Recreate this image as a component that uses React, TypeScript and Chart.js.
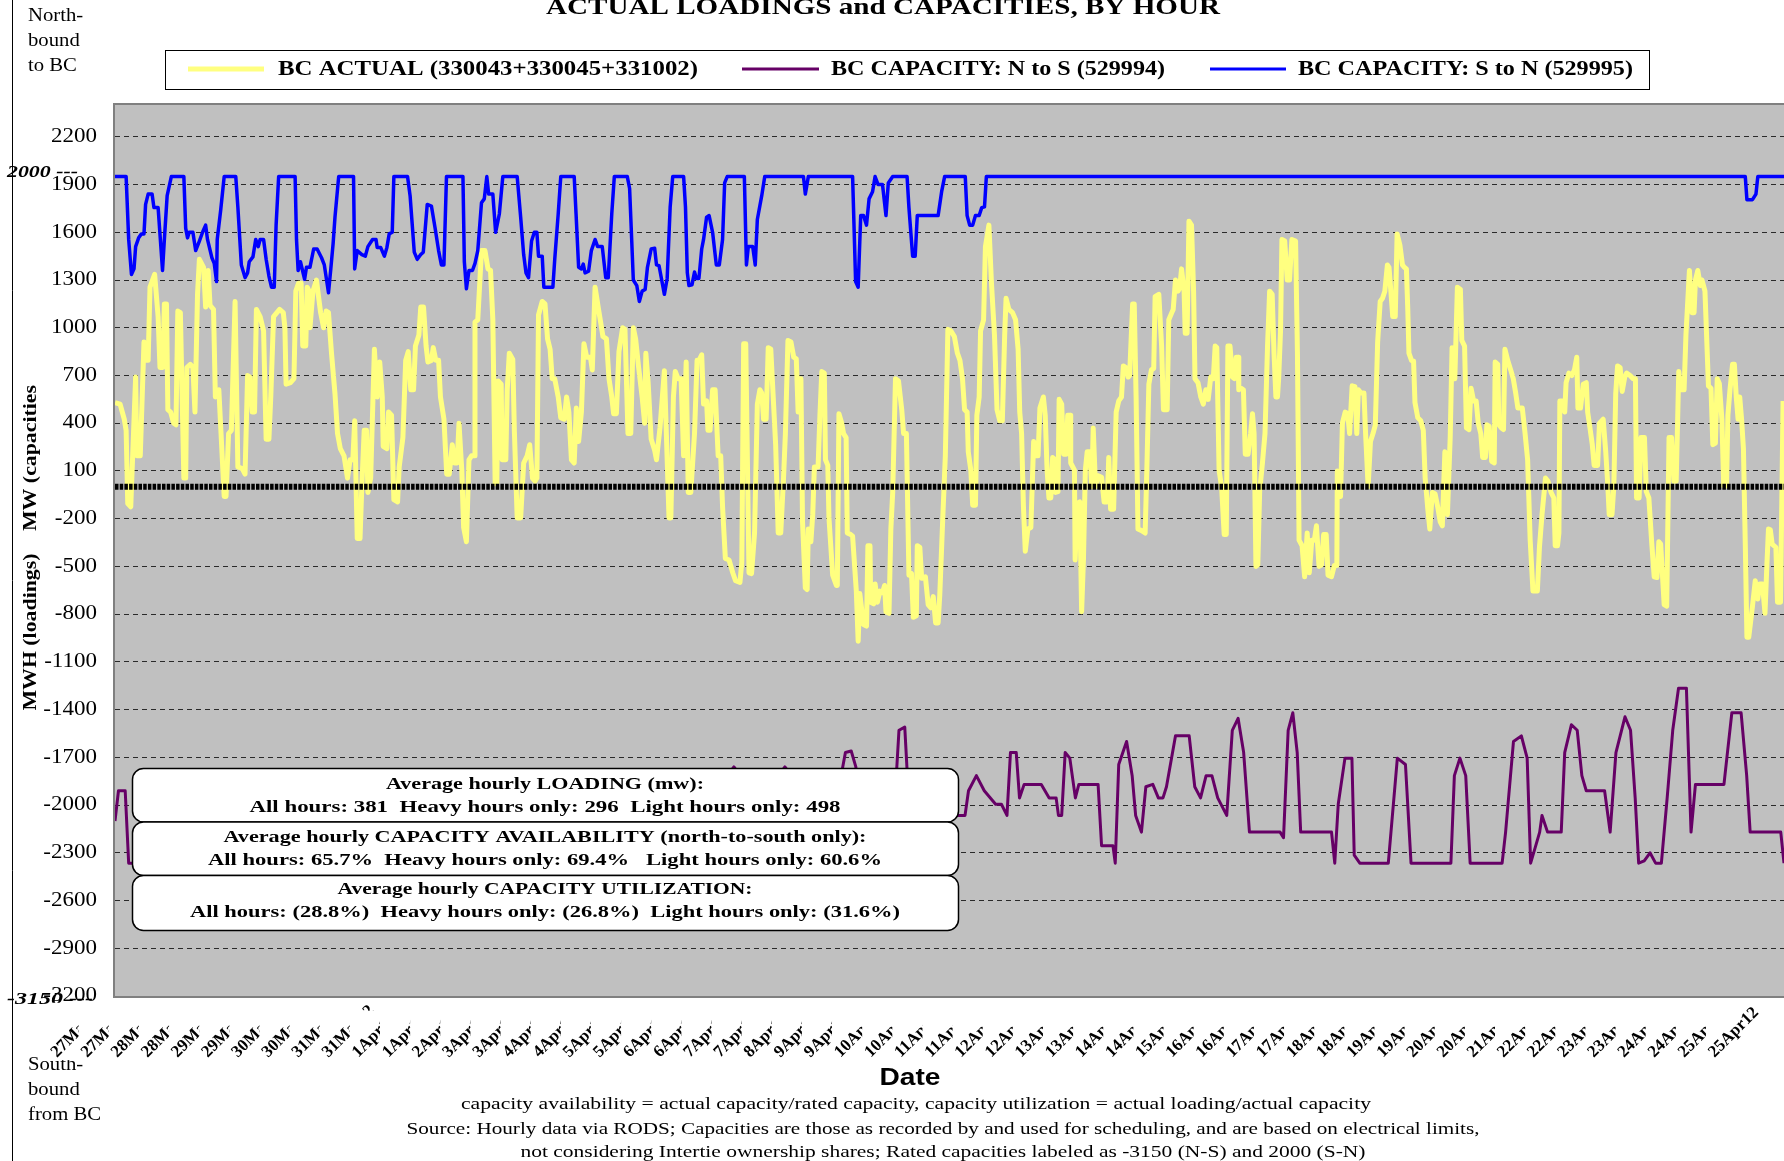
import React, { useEffect, useRef } from 'react';
import { Chart, registerables } from 'chart.js';

Chart.register(...registerables);

const CANVAS_W = 1784;
const CANVAS_H = 1161;

// [hour since 27Mar12 00:00, MW]
const bcActual: number[][] = [
  [0,530],[2.2,520],[4,425],[4.8,355],[5.5,-105],[6.8,-125],[8.9,690],[9.4,195],[10.9,195],[12.5,910],[13.2,795],[14.3,795],[15.1,1255],[17.1,1335],[18.6,1070],[19.4,750],[20.6,750],[21.3,1150],[22.2,1150],[22.8,485],[24,470],[25.3,400],[26.3,390],[27.1,1105],[28.2,1095],[29.7,55],[30.5,55],[31,750],[32.5,770],[33.6,750],[34.5,470],[35.6,1210],[36.4,1430],[38.2,1380],[39.1,1130],[40.2,1360],[41,1140],[42.5,1115],[43.3,565],[44.8,610],[47.1,-60],[47.9,-60],[49,335],[50.2,355],[51.8,1165],[53,125],[54.9,115],[56.1,80],[57.2,700],[58.2,690],[59.2,470],[60.2,470],[61,1115],[62.6,1070],[64.1,980],[65.2,300],[66.4,300],[67.2,565],[68.4,1070],[71,1115],[72.6,1095],[73.3,1000],[73.8,645],[75.7,655],[77.2,680],[78,1230],[79.2,1280],[80.3,1280],[81,885],[82.3,885],[82.9,1255],[83.7,1230],[84.1,1000],[85.4,1230],[86.9,1300],[87.5,1230],[88.7,1095],[90,1000],[91.1,1105],[92.1,1095],[93.4,840],[94.9,585],[96,335],[97.2,240],[98.8,195],[100.3,55],[101.4,170],[102.6,170],[103.4,415],[104.5,-325],[105.7,-325],[106.5,10],[107.5,355],[108.5,355],[109.1,-35],[110.3,55],[111.9,865],[113.1,565],[114.2,785],[115.3,565],[115.7,255],[117.3,240],[118,470],[119.3,450],[120.3,-80],[121.9,-95],[122.6,125],[124.2,310],[125.4,795],[126.5,850],[127.6,610],[128.8,610],[129.6,885],[131.1,955],[131.9,1130],[133.1,1130],[134.2,885],[135,785],[136.5,795],[137.3,875],[138.4,795],[139.6,795],[140.4,565],[141.9,425],[143.1,80],[144.2,80],[145.5,265],[146.5,150],[147.6,150],[148.4,400],[149.6,105],[150.4,-255],[151.6,-345],[152.7,170],[153.8,195],[155,195],[155.3,1035],[156.5,1050],[158.1,1485],[159.6,1485],[160.9,1370],[162,1360],[163,1050],[164,20],[164.7,20],[165.3,665],[166.6,645],[167,170],[168.6,170],[169.2,610],[170.1,840],[171.6,800],[172.3,345],[173.5,-195],[175,-195],[176.3,150],[177.8,195],[178.9,265],[180.1,55],[181.2,35],[182,55],[182.7,1080],[184.3,1165],[185.5,1150],[186.6,930],[187.7,865],[188.6,680],[189.7,680],[191.2,565],[192.3,435],[193.8,425],[194.8,565],[195.8,470],[196.9,170],[198.1,150],[199,495],[200,285],[201.2,470],[202.3,900],[203.5,815],[205.1,815],[205.9,735],[207.1,1255],[208.6,1115],[210.5,945],[212,930],[213.1,680],[214.3,565],[215.1,460],[216.3,460],[217.4,850],[219,1000],[220,990],[221.3,335],[222.5,335],[223.6,1000],[224.6,930],[225.9,750],[227.4,565],[228.5,400],[229,840],[230,655],[231.3,300],[232.8,230],[233.6,170],[235.1,370],
  [237,730],[239,-195],[239.8,-195],[240.9,565],[241.7,725],[242.9,680],[244.2,680],[245.3,195],[246.4,785],[247.3,-35],[248.4,-35],[250,335],[251.1,795],[252,795],[253.1,830],[253.9,520],[255.2,540],[255.8,355],[256.7,355],[257.8,610],[258.9,610],[260.2,195],[261.3,195],[262.1,-125],[263.3,-450],[264.9,-460],[266.5,-540],[267.7,-590],[269.6,-600],[270.4,-475],[271.2,900],[272.1,900],[273.5,-540],[274.6,-545],[275.9,-290],[277.1,520],[278.2,610],[279,590],[279.8,425],[280.9,425],[281.8,875],[282.9,865],[285,265],[286.1,-290],[287.2,-290],[288.4,55],[289.2,335],[290.3,920],[291.6,910],[292.8,815],[293.9,805],[294.7,470],[295.5,680],[295.9,680],[296.6,-220],[297.8,-635],[298.6,-645],[299.1,-265],[300.2,-345],[301,-175],[301.7,125],[303.3,125],[304.1,450],[304.9,725],[306,715],[306.5,170],[307.5,135],[308,-195],[309.6,-555],[311.2,-620],[311.6,-620],[312.3,460],[313.5,400],[314.3,335],[315.4,310],[315.9,-290],[317.4,-300],[318.2,-310],[319.8,-655],[320.6,-970],[321.3,-670],[322.9,-865],[324.2,-875],[324.8,-370],[325.7,-370],[326,-725],[327.3,-735],[327.9,-610],[328.9,-725],[330,-655],[331.1,-665],[332,-620],[332.6,-785],[333.9,-795],[334.7,-265],[335.5,-35],[336.7,680],[338,665],[339.4,485],[340.2,335],[341.4,335],[342.5,-555],[343.6,-545],[344.4,-820],[345.7,-810],[346.1,-370],[347.2,-380],[348,-575],[349.6,-565],[350.8,-740],[351.9,-760],[353,-690],[354,-855],[355.1,-855],[355.8,-680],[357.1,-195],[358.2,195],[359.3,990],[360.6,980],[362.1,945],[363.4,840],[364.5,795],[365.6,680],[366.5,485],[367.6,470],[368.1,220],[369.2,105],[370,-115],[371.2,-115],[371.8,450],[372.8,565],[373.4,980],[374.7,1050],[375.5,1510],[377,1645],[378.1,1280],[379.4,955],[380.5,485],[381.7,415],[382.8,415],[383.8,955],[384.4,1185],[385.6,1115],[387.2,1095],[388.5,1050],[389.6,865],[390.3,470],[391.1,335],[391.9,-125],[392.7,-405],[393.8,-265],[395.1,-255],[396.3,285],[397.4,195],[398.2,195],[399,495],[400.5,565],[401.3,450],[402.1,105],[402.9,-70],[403.7,-70],[404.5,185],[405.2,175],[405.7,-35],[406.8,-30],[407.3,550],[408.4,520],[409.2,205],[410.4,205],[411,450],[412,450],[412.3,150],[413.9,105],[414.2,-460],[415.1,-105],[416.2,-95],[417,-785],[417.8,-450],[418.6,105],[419.4,220],[420.5,220],[421.4,0],[422,370],[423,0],[424.1,70],[425.6,60],[426.7,-95],[428,-95],[428.7,185],[429.5,-140],[430.8,-140],[431.9,470],[433,540],[434.2,565],[435,760],[436.1,750],[437.1,690],[437.7,700],[439,1150],[439.7,1150],[440.5,565],[441.3,-265],[442.9,-275],[444.4,-290],[445.2,150],[446,645],[447.1,735],[448.1,745],[448.7,1195],[450.3,1210],[451.5,885],[452.3,485],[453.9,485],[454.6,1050],[455.9,1095],[456.5,1115],[457.5,1300],[458.6,1230],[459.3,1250],[460.1,1370],[461.2,1230],[461.7,965],[462.5,965],[463.3,1670],[464.4,1645],[465.3,1230],[465.9,680],[467.2,655],[468.4,565],[469.5,520],[470.6,610],[471.6,550],[472.7,690],[473.8,680],[474.6,885],[475.3,875],[476.3,105],[477.4,-5],[478.5,-300],[479.4,-300],
  [480.1,885],[481,885],[482.1,690],[482.9,680],[483.7,815],[484.5,815],[484.8,610],[485.7,620],[486.8,610],[487.6,205],[488.8,205],[489.9,335],[490.7,460],[491.4,335],[492.2,-500],[493,-490],[493.8,-30],[495,150],[496.1,335],[497.2,885],[498.1,1230],[499.2,1210],[500,840],[500.8,565],[501.5,565],[502,680],[502.8,980],[503.4,1555],[504.6,1545],[505.7,1300],[506.7,1300],[507.7,1555],[509.3,1545],[510.1,840],[510.8,-335],[512.1,-370],[513.2,-565],[514.3,-290],[515.2,-540],[516.3,-335],[517.4,-335],[518.3,-245],[519.4,-500],[520.5,-490],[521.4,-300],[522.5,-300],[523.3,-555],[524.8,-565],[526,-495],[527.1,-495],[527.3,100],[528.7,-60],[529.5,400],[530.7,470],[531.8,460],[532.6,335],[533.7,635],[534.9,630],[535.7,335],[536.4,610],[537.5,590],[538.8,590],[539.5,335],[540.6,0],[541.6,285],[542.7,335],[543.7,390],[544.7,910],[545.8,1165],[546.8,1185],[547.8,1230],[548.9,1395],[549.6,1380],[550.4,1230],[551.2,1070],[552.3,1070],[553.1,1590],[554.3,1520],[555.4,1395],[556.2,1380],[557.1,1370],[557.7,1115],[558.2,840],[559.3,795],[560.2,790],[560.8,530],[562,435],[563.3,415],[564.4,355],[565.2,55],[566.4,-150],[567.2,-265],[568.3,-35],[569.5,-45],[570.6,-125],[571.7,-220],[572.6,-245],[573.7,220],[574.8,-175],[576,310],[576.8,875],[578,680],[579.1,1255],[580.4,1240],[581,920],[582.2,885],[583,370],[584.1,360],[585,620],[586.1,540],[587.2,540],[588.1,400],[589.2,335],[590,185],[591.2,185],[591.8,390],[592.8,380],[593.9,160],[595,150],[595.4,785],[596.5,770],[597,390],[598.1,370],[599,360],[599.6,865],[600.8,795],[602.1,735],[603.2,680],[604.3,585],[605.2,495],[607.1,495],[608.3,335],[609.4,170],[610.5,-335],[611.7,-655],[613.6,-655],[614.5,-380],[615.6,-175],[617.1,55],[618.2,35],[619.5,-35],[620.7,-70],[621.3,-370],[622.3,-370],[622.9,-290],[623.3,540],[624.4,540],[625.4,470],[626,655],[627.2,715],[628.5,700],[629.6,735],[630.6,815],[631.1,495],[632.2,495],[633.4,645],[634.7,655],[635.3,470],[636.2,380],[637.3,265],[638.1,135],[639.6,135],[640.4,400],[642,425],[643.1,220],[644,5],[644.6,-175],[645.8,-175],[646.6,5],[647.4,585],[648.2,760],[649.3,750],[650.2,600],[651.3,690],[652.1,715],[653.6,700],[654.9,680],[655.9,680],[656.4,-70],[657.5,-70],[658.3,310],[659.8,310],[660.6,-30],[661.7,-70],[662.9,-345],[664,-565],[665.2,-570],[666,-345],[666.8,-360],[668.3,-740],[669.4,-750],[670.4,310],[671.5,310],[672.5,35],[673.5,35],[674.6,725],[675.6,610],[676.9,610],[677.7,955],[679.2,1360],[680.3,1095],[681.2,1095],[681.8,1300],[682.8,1360],[683.9,1265],[684.6,1300],[685.9,1230],[687,795],[687.4,635],[688.5,620],[689.3,265],[690.4,275],[691.2,680],[692.1,650],[693.2,425],[694,5],[695.2,5],[695.8,450],[696.7,610],[697.8,770],[698.6,770],[699.4,565],[700.2,425],[700.9,565],[701.7,425],[702.5,240],[703.3,-360],[704,-945],[704.8,-945],[706.4,-750],[707.6,-590],[708.7,-705],[709.5,-610],[710.7,-610],[711.8,-795],[712.6,-495],[713.3,-265],[714.1,-270],[714.9,-360],[716.5,-380],[717.2,-725],[718.5,-725],[719.6,540],
];

const capacityStoN: number[][] = [
  [0,1950],[4.8,1950],[5.9,1555],[7.1,1335],[8.2,1370],[8.9,1510],[10.2,1565],[11.4,1590],[12.5,1590],[13.2,1775],[14.3,1840],[16,1840],[16.8,1755],[18.6,1755],[20.5,1360],[21.3,1555],[22.5,1830],[24.3,1950],[29.7,1950],[30.5,1625],[31.3,1565],[32,1600],[33.6,1600],[34.8,1485],[36.4,1545],[37.9,1605],[39.1,1645],[39.9,1555],[41.8,1440],[42.8,1405],[43.8,1290],[44.1,1555],[45.6,1740],[47.1,1950],[52.1,1950],[53,1760],[54.5,1395],[56.1,1315],[57.2,1345],[57.9,1415],[59.5,1445],[60.7,1555],[61.8,1510],[62.6,1555],[64.1,1555],[65.2,1430],[66.4,1325],[67.5,1255],[68.7,1255],[69.5,1645],[70.6,1950],[77.7,1950],[78.3,1555],[79,1360],[80,1415],[81.8,1305],[82.6,1380],[84.1,1380],[85.7,1495],[87.2,1495],[89.1,1440],[90.3,1395],[92.1,1220],[93.1,1370],[94.1,1530],[94.9,1695],[96.5,1950],[102.9,1950],[103.4,1370],[104.5,1485],[106.5,1460],[108,1450],[109.1,1510],[111.1,1555],[112.6,1555],[113.1,1505],[114.6,1505],[116.2,1450],[117.3,1505],[118.3,1590],[119.6,1600],[120.3,1950],[126.2,1950],[127.3,1830],[129.1,1475],[130.4,1430],[131.9,1460],[133,1475],[134.7,1775],[136.5,1765],[138.1,1625],[139.6,1485],[140.8,1395],[141.9,1395],[143,1950],[150.1,1950],[150.7,1415],[151.6,1245],[152.7,1360],[154.2,1360],[155.3,1405],[156.5,1485],[158.1,1785],[159.3,1810],[160.4,1950],[161.2,1840],[163,1840],[164.2,1600],[165.8,1715],[167.3,1950],[173.5,1950],[175,1695],[176.3,1460],[177.3,1345],[178.4,1315],[179.7,1545],[180.9,1600],[182,1600],[182.7,1450],[184.3,1450],[185,1255],[188.9,1255],[189.7,1430],[191.2,1715],[192.3,1950],[198.1,1950],[198.9,1715],[200,1380],[201.2,1370],[202,1400],[202.8,1345],[204.3,1355],[205.5,1485],[207.1,1555],[208.2,1510],[210.2,1510],[211.7,1315],[212.8,1315],[214.3,1715],[215.4,1950],[221,1950],[222,1875],[223.6,1300],[225.1,1265],[226.2,1165],[227.4,1230],[228.7,1240],[229.7,1380],[231.3,1495],[232.8,1500],[233.6,1395],[234.7,1390],
  [237,1210],[238.2,1310],[239.5,1760],[240.6,1950],[245.3,1950],[246.1,1760],[246.9,1345],[247.6,1265],[248.9,1270],[250,1350],[250.8,1310],[251.9,1310],[253.1,1495],[253.9,1555],[255.2,1695],[256.3,1705],[257.8,1600],[259.4,1395],[260.7,1395],[262.1,1555],[263,1910],[264.1,1950],[271.5,1950],[272.4,1395],[273.2,1510],[275.1,1510],[276.2,1395],[277.1,1680],[279,1830],[280.3,1950],[297,1950],[297.8,1840],[299.1,1950],[318.2,1950],[319.5,1290],[320.6,1255],[321.7,1705],[322.9,1705],[324.2,1645],[325.3,1810],[326.8,1855],[327.9,1950],[329.2,1900],[331.1,1900],[332.6,1705],[333.6,1910],[335.5,1950],[341.7,1950],[342.5,1755],[344.1,1450],[345.2,1450],[346.1,1705],[355.1,1705],[356.6,1855],[357.9,1950],[366.8,1950],[367.6,1705],[368.7,1645],[370,1645],[371.2,1705],[372.8,1705],[373.9,1755],[375.1,1760],[375.9,1950],
  [703.3,1950],[704,1805],[706.4,1805],[707.9,1840],[708.7,1950],[720,1950],
];

const capacityNtoS: number[][] = [
  [0,-2100],[1.5,-1910],[4.4,-1910],[5.9,-2365],[20,-2365],[24,-2150],[60,-2150],[72,-2365],[100,-2365],[110,-2150],[150,-2150],[160,-2365],[200,-2365],[210,-2100],[262,-2100],[265,-1800],[267,-1760],[269,-1800],[272,-2100],[285,-2100],[287,-1800],[289,-1760],[291,-1800],[294,-2100],[312,-2100],[313.7,-1780],[315.1,-1670],[317.6,-1660],[319.6,-1760],[321,-2065],[335,-2065],[337.2,-1780],[338.2,-1530],[340.7,-1510],[341.7,-1780],[343,-2065],
  [363.3,-2065],[366.7,-2065],[368.2,-1910],[371.6,-1815],[375,-1910],[379.9,-1995],[382.4,-1995],[384.8,-2065],[386.3,-1670],[388.8,-1670],[390.2,-1955],[392.2,-1870],[399.6,-1870],[403,-1955],[406,-1955],[407,-2065],[408.4,-2065],[409.9,-1670],[411.9,-1705],[414.3,-1955],[415.8,-1870],[424.1,-1870],[425.6,-2255],[430.5,-2255],[431.5,-2365],[433,-1745],[436.4,-1600],[438.8,-1815],[440.3,-2065],[442.8,-2170],[444.7,-1885],[447.7,-1870],[450.1,-1955],[452.1,-1955],[453.6,-1885],[457.5,-1565],[463.4,-1565],[465.8,-1885],[468.3,-1955],[470.7,-1815],[473.2,-1815],[475.7,-1955],[479.6,-2065],[482,-1530],[484.5,-1455],[486.9,-1670],[489.4,-2170],[502.6,-2170],[504.1,-2205],[506.1,-1530],[508.1,-1420],[510,-1670],[511.5,-2170],[524.8,-2170],[526.2,-2365],[527.7,-1995],[530.6,-1705],[533.6,-1705],[534.6,-2315],[537,-2365],[549.3,-2365],[553.2,-1705],[556.7,-1745],[559.1,-2365],[576.3,-2365],[577.8,-1815],[580.2,-1705],[582.7,-1815],[584.6,-2365],[598.4,-2365],[599.9,-2170],[603.3,-1600],[606.7,-1565],[609.2,-1705],[610.7,-2365],[613.1,-2245],[614.6,-2170],[615.6,-2065],[618,-2170],[623.9,-2170],[625.4,-1670],[628.3,-1495],[630.8,-1530],[632.8,-1815],[634.7,-1910],[642.6,-1910],[645,-2170],[647.5,-1670],[651.4,-1445],[653.8,-1530],[655.8,-1955],[657.3,-2365],[659.7,-2350],[662.2,-2300],[664.6,-2365],[667.1,-2365],[669.6,-1955],[672,-1530],[674.5,-1265],[677.9,-1265],[679.9,-2170],[681.8,-1870],[694.1,-1870],[695.6,-1670],[697.5,-1420],[701.5,-1420],[703.9,-1815],[705.4,-2170],[718.6,-2170],[720,-2365],
];

const zeroLine: number[][] = [[0, 0], [720, 0]];

const yTickValues = [2200, 1900, 1600, 1300, 1000, 700, 400, 100, -200, -500, -800, -1100, -1400, -1700, -2000, -2300, -2600, -2900, -3200];

const xTickLabels = [
  '27Mar12','27Mar12','28Mar12','28Mar12','29Mar12','29Mar12','30Mar12','30Mar12','31Mar12','31Mar12',
  '1Apr12','1Apr12','2Apr12','3Apr12','3Apr12','4Apr12','4Apr12','5Apr12','5Apr12','6Apr12','6Apr12',
  '7Apr12','7Apr12','8Apr12','9Apr12','9Apr12','10Apr12','10Apr12','11Apr12','11Apr12','12Apr12','12Apr12',
  '13Apr12','13Apr12','14Apr12','14Apr12','15Apr12','16Apr12','16Apr12','17Apr12','17Apr12','18Apr12','18Apr12',
  '19Apr12','19Apr12','20Apr12','20Apr12','21Apr12','22Apr12','22Apr12','23Apr12','23Apr12','24Apr12','24Apr12',
  '25Apr12','25Apr12',
];
const xTickStepHours = 13;

const seriesNames = ['BC ACTUAL (330043+330045+331002)', 'BC CAPACITY: N to S (529994)', 'BC CAPACITY: S to N (529995)'];
const seriesColors = ['#FFFF80', '#660066', '#0000FF'];

const chartTitle = 'ACTUAL LOADINGS and CAPACITIES, BY HOUR';
const statBoxes = [
  ['Average hourly LOADING (mw):', 'All hours: 381  Heavy hours only: 296  Light hours only: 498'],
  ['Average hourly CAPACITY AVAILABILITY (north-to-south only):', 'All hours: 65.7%  Heavy hours only: 69.4%   Light hours only: 60.6%'],
  ['Average hourly CAPACITY UTILIZATION:', 'All hours: (28.8%)  Heavy hours only: (26.8%)  Light hours only: (31.6%)'],
];
const footnotes = [
  'capacity availability = actual capacity/rated capacity, capacity utilization = actual loading/actual capacity',
  'Source: Hourly data via RODS; Capacities are those as recorded by and used for scheduling, and are based on electrical limits,',
  'not considering Intertie ownership shares; Rated capacities labeled as -3150 (N-S) and 2000 (S-N)',
];

const SERIF = '"Liberation Serif", "Times New Roman", serif';
const SANS = '"Liberation Sans", Arial, sans-serif';

function drawText(
  ctx: CanvasRenderingContext2D, text: string, x: number, y: number, font: string,
  opts: { width?: number; sx?: number; align?: 'left' | 'center' | 'right'; baseline?: CanvasTextBaseline; color?: string } = {}
) {
  ctx.save();
  ctx.font = font;
  ctx.fillStyle = opts.color || '#000';
  ctx.textBaseline = opts.baseline || 'middle';
  ctx.textAlign = 'left';
  const nat = ctx.measureText(text).width;
  const sx = opts.width ? opts.width / nat : (opts.sx || 1);
  const w = nat * sx;
  const align = opts.align || 'left';
  const left = align === 'center' ? x - w / 2 : align === 'right' ? x - w : x;
  ctx.translate(left, y);
  ctx.scale(sx, 1);
  ctx.fillText(text, 0, 0);
  ctx.restore();
}

function roundRect(ctx: CanvasRenderingContext2D, x: number, y: number, w: number, h: number, r: number) {
  ctx.beginPath();
  ctx.moveTo(x + r, y);
  ctx.lineTo(x + w - r, y);
  ctx.arcTo(x + w, y, x + w, y + r, r);
  ctx.lineTo(x + w, y + h - r);
  ctx.arcTo(x + w, y + h, x + w - r, y + h, r);
  ctx.lineTo(x + r, y + h);
  ctx.arcTo(x, y + h, x, y + h - r, r);
  ctx.lineTo(x, y + r);
  ctx.arcTo(x, y, x + r, y, r);
  ctx.closePath();
}

const decor = {
  id: 'decor',
  beforeDraw(chart: any) {
    const { ctx, chartArea: a } = chart;
    ctx.save();
    ctx.fillStyle = '#ffffff';
    ctx.fillRect(0, 0, CANVAS_W, CANVAS_H);
    ctx.fillStyle = '#C0C0C0';
    ctx.fillRect(a.left, a.top, a.right - a.left, a.bottom - a.top);
    ctx.restore();
  },
  beforeDatasetsDraw(chart: any) {
    const { ctx, chartArea: a } = chart;
    ctx.save();
    ctx.strokeStyle = '#808080';
    ctx.lineWidth = 2;
    ctx.strokeRect(a.left - 1, a.top - 1, a.right - a.left + 2, a.bottom - a.top + 2);
    ctx.restore();
  },
  afterDraw(chart: any) {
    const { ctx } = chart;
    const yS = chart.scales.y;
    const xS = chart.scales.x;

    // left vertical rule
    ctx.save();
    ctx.strokeStyle = '#000';
    ctx.lineWidth = 1;
    ctx.beginPath();
    ctx.moveTo(12.5, 0);
    ctx.lineTo(12.5, CANVAS_H);
    ctx.stroke();
    ctx.restore();

    // title
    drawText(ctx, chartTitle, 883, 14, `bold 24px ${SERIF}`, { width: 674, align: 'center', baseline: 'alphabetic' });

    // legend
    ctx.save();
    ctx.fillStyle = '#fff';
    ctx.fillRect(165.5, 50.5, 1484, 39);
    ctx.strokeStyle = '#000';
    ctx.lineWidth = 1;
    ctx.strokeRect(165.5, 50.5, 1484, 39);
    const legendItems = [
      { x0: 188, x1: 264, tx: 278, tw: 420, lw: 5 },
      { x0: 742, x1: 819, tx: 831, tw: 334, lw: 3 },
      { x0: 1210, x1: 1286, tx: 1298, tw: 335, lw: 3 },
    ];
    legendItems.forEach((it, i) => {
      ctx.strokeStyle = seriesColors[i];
      ctx.lineWidth = it.lw;
      ctx.beginPath();
      ctx.moveTo(it.x0, 69);
      ctx.lineTo(it.x1, 69);
      ctx.stroke();
      drawText(ctx, seriesNames[i], it.tx, 70, `bold 20px ${SERIF}`, { width: it.tw });
    });
    ctx.restore();

    // y tick labels
    yTickValues.forEach((v) => {
      drawText(ctx, String(v), 97, yS.getPixelForValue(v), `20px ${SERIF}`, { sx: 1.15, align: 'right' });
    });
    drawText(ctx, '2000 ---', 7, yS.getPixelForValue(2000) + 4, `bold italic 17px ${SERIF}`, { width: 71 });
    drawText(ctx, '-3150 ---', 7, yS.getPixelForValue(-3150) + 12, `bold italic 17px ${SERIF}`, { width: 86 });

    // y-axis titles (rotated)
    ctx.save();
    ctx.translate(31, 632);
    ctx.rotate(-Math.PI / 2);
    drawText(ctx, 'MWH (loadings)', 0, 0, `bold 19px ${SERIF}`, { width: 157, align: 'center' });
    ctx.restore();
    ctx.save();
    ctx.translate(31, 458);
    ctx.rotate(-Math.PI / 2);
    drawText(ctx, 'MW (capacities', 0, 0, `bold 19px ${SERIF}`, { width: 146, align: 'center' });
    ctx.restore();

    // direction notes
    ['North-', 'bound', 'to BC'].forEach((t, i) => drawText(ctx, t, 28, 16 + i * 25, `18px ${SERIF}`, { sx: 1.15 }));
    ['South-', 'bound', 'from BC'].forEach((t, i) => drawText(ctx, t, 28, 1065 + i * 25, `18px ${SERIF}`, { sx: 1.15 }));

    // stat boxes
    const boxTops = [768, 821.5, 875];
    const boxH = [53.5, 53.5, 55];
    statBoxes.forEach((lines, i) => {
      ctx.save();
      roundRect(ctx, 132.5, boxTops[i] + 0.5, 826, boxH[i], 11);
      ctx.fillStyle = '#fff';
      ctx.fill();
      ctx.strokeStyle = '#000';
      ctx.lineWidth = 1.5;
      ctx.stroke();
      ctx.restore();
    });
    const lineY = [[785, 808], [838, 861], [890, 913]];
    const lineW = [[318, 591], [643, 674], [415, 710]];
    statBoxes.forEach((lines, i) => {
      lines.forEach((t, j) => drawText(ctx, t, 545, lineY[i][j], `bold 17px ${SERIF}`, { width: lineW[i][j], align: 'center' }));
    });

    // x tick labels (rotated, each on an opaque box that hides the previous label's tail)
    ctx.save();
    ctx.font = `bold 17px ${SERIF}`;
    const asc = 12, desc = 3, c = Math.SQRT1_2;
    xTickLabels.forEach((lab, k) => {
      const tx = xS.getPixelForValue(k * xTickStepHours);
      const ax = tx - 58;
      const ay = 1058;
      const w = ctx.measureText(lab).width;
      const minX = ax - asc * c;
      const maxX = ax + (w + desc) * c;
      const minY = ay - (w + asc) * c;
      const maxY = ay + desc * c;
      ctx.fillStyle = '#fff';
      ctx.fillRect(minX, minY, maxX - minX, maxY - minY);
      ctx.save();
      ctx.translate(ax, ay);
      ctx.rotate(-Math.PI / 4);
      ctx.fillStyle = '#000';
      ctx.textBaseline = 'alphabetic';
      ctx.textAlign = 'left';
      ctx.fillText(lab, 0, 0);
      ctx.restore();
    });
    ctx.restore();

    // x axis title and notes
    drawText(ctx, 'Date', 910, 1078, `bold 24px ${SANS}`, { width: 61, align: 'center' });
    drawText(ctx, footnotes[0], 916, 1105, `17px ${SERIF}`, { width: 910, align: 'center' });
    drawText(ctx, footnotes[1], 943, 1130, `17px ${SERIF}`, { width: 1073, align: 'center' });
    drawText(ctx, footnotes[2], 943, 1153, `17px ${SERIF}`, { width: 845, align: 'center' });
  },
};

export default function App() {
  const ref = useRef<HTMLCanvasElement>(null);
  useEffect(() => {
    const canvas = ref.current;
    if (!canvas) return;
    const toXY = (arr: number[][]) => arr.map(([x, y]) => ({ x, y }));
    const common = { pointRadius: 0, tension: 0, fill: false, borderJoinStyle: 'round' as const, borderCapStyle: 'butt' as const };
    const chart = new Chart(canvas, {
      type: 'line',
      data: {
        datasets: [
          { ...common, label: seriesNames[2], data: toXY(capacityStoN), borderColor: seriesColors[2], borderWidth: 3.5, order: 1 },
          { ...common, label: 'zero', data: toXY(zeroLine), borderColor: '#000', borderWidth: 6, borderDash: [3.5, 1.2], order: 2 },
          { ...common, label: seriesNames[1], data: toXY(capacityNtoS), borderColor: seriesColors[1], borderWidth: 3, order: 3 },
          { ...common, label: seriesNames[0], data: toXY(bcActual), borderColor: seriesColors[0], borderWidth: 5, order: 4 },
        ],
      },
      options: {
        responsive: false,
        maintainAspectRatio: false,
        animation: false,
        events: [],
        layout: { padding: { left: 115, top: 105, right: 0, bottom: 165 } },
        plugins: { legend: { display: false }, tooltip: { enabled: false }, title: { display: false } },
        scales: {
          x: {
            type: 'linear', min: 0, max: 720,
            grid: { display: false, drawTicks: false },
            border: { display: false },
            ticks: { display: false },
            afterFit: (s: any) => { s.height = 0; },
          },
          y: {
            type: 'linear', min: -3200, max: 2400,
            grid: { color: '#2a2a2a', lineWidth: 1, drawTicks: false },
            border: { display: false, dash: [5, 4] },
            ticks: { display: false },
            afterBuildTicks: (s: any) => { s.ticks = yTickValues.map((v) => ({ value: v })); },
            afterFit: (s: any) => { s.width = 0; },
          },
        },
      },
      plugins: [decor],
    });
    return () => chart.destroy();
  }, []);
  return (
    <canvas
      ref={ref}
      width={CANVAS_W}
      height={CANVAS_H}
      style={{ position: 'absolute', left: 0, top: 0, display: 'block', width: CANVAS_W, height: CANVAS_H }}
    />
  );
}
